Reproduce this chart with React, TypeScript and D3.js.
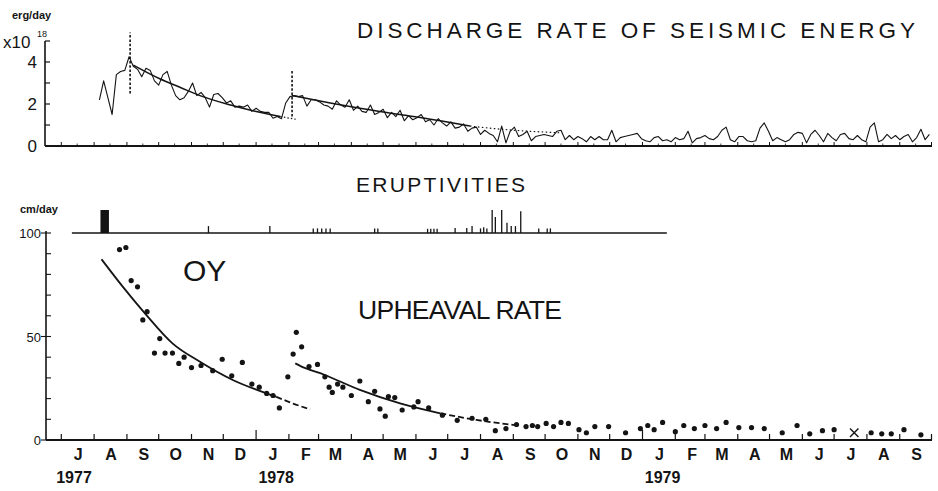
import * as d3 from "d3";

const W = 938, H = 491;
const parse = d3.timeParse("%Y-%m-%d");
const D = (s: string) => parse(s) as Date;

// shared time axis, Jul 1977 .. Oct 1979
const T0 = D("1977-07-01"), T1 = D("1979-10-01");

// discharge rate of seismic energy, x10^18 erg/day, one reading every 4 days
const energyStart = "1977-08-06";
const energyStepDays = 4;
const energy = [
  2.2, 3.1, 2.3, 1.5, 3.4, 3.55, 3.6, 4.25, 3.8, 3.65,
  3.3, 3.7, 3.6, 3.1, 2.9, 3.4, 3.55, 2.9, 2.4, 2.2,
  2.3, 2.6, 3.0, 2.4, 2.55, 2.3, 1.85, 2.45, 2.5, 2.3,
  2.05, 2.15, 1.85, 1.9, 1.85, 1.95, 1.65, 1.8, 1.65, 1.6,
  1.6, 1.32, 1.4, 1.3, 2.05, 2.35, 2.4, 2.35, 2.4, 1.9,
  2.2, 2.2, 2.1, 1.95, 1.9,
  1.75, 2.15, 1.95, 1.85, 2.2, 1.7, 1.9, 1.65, 1.6, 1.95,
  1.5, 1.6, 1.75, 1.35, 1.6, 1.4, 1.7, 1.2, 1.45, 1.25,
  1.35, 1.5, 1.15, 1.25, 1.0, 1.3, 1.1, 0.95, 1.15, 0.85,
  0.9, 1.05, 0.7, 0.85, 0.9, 0.55, 0.75, 0.6, 0.5,
  0.2, 0.95, 0.15, 0.7, 0.9, 0.45, 0.55, 0.7, 0.25, 0.45,
  0.5, 0.55, 0.5, 0.45, 0.7, 0.75, 0.3, 0.5, 0.3, 0.45,
  0.35, 0.2, 0.45, 0.3, 0.45, 0.3, 0.3, 0.75, 0.2, 0.4,
  0.45, 0.5, 0.55, 0.6, 0.35, 0.25, 0.2, 0.4, 0.45, 0.25,
  0.3, 0.2, 0.4, 0.3, 0.35, 0.7, 0.15, 0.35, 0.4, 0.5,
  0.35, 0.3, 0.45, 0.75, 0.9, 0.3, 0.2, 0.45, 0.45, 0.25,
  0.2, 0.25, 0.85, 1.1, 0.7, 0.25, 0.4, 0.3, 0.2, 0.3,
  0.55, 0.65, 0.6, 0.15, 0.55, 0.75, 0.5, 0.2, 0.6, 0.4,
  0.25, 0.55, 0.6, 0.35, 0.3, 0.5, 0.3, 0.2, 0.9, 1.1,
  0.2, 0.3, 0.55, 0.35, 0.5, 0.3, 0.45, 0.55, 0.2, 0.4,
  0.8, 0.3, 0.55,
];

// trend lines drawn through the energy record
const energyTrend1: [string, number][] = [
  ["1977-09-07", 3.85], ["1977-10-02", 3.2], ["1977-10-21", 2.8], ["1977-11-09", 2.4],
  ["1977-12-08", 1.95], ["1977-12-31", 1.65], ["1978-01-24", 1.4],
];
const energyTrend1Dotted: [string, number][] = [["1978-01-24", 1.4], ["1978-02-08", 1.27]];
const energyTrend2: [string, number][] = [
  ["1978-02-04", 2.4], ["1978-03-12", 2.05], ["1978-04-09", 1.8], ["1978-05-17", 1.5],
  ["1978-06-24", 1.2], ["1978-07-22", 0.95],
];
const energyTrend2Dotted: [string, number][] = [
  ["1978-07-22", 0.95], ["1978-08-20", 0.8], ["1978-09-17", 0.7], ["1978-10-15", 0.63],
];
// dashed markers at the two energy peaks: date, from, to
const peakMarks: [string, number, number][] = [["1977-09-04", 2.5, 5.4], ["1978-02-04", 1.4, 3.6]];

// eruptivities
const eruptionMain: [string, string, number] = ["1977-08-07", "1977-08-15", 1];
const eruptions: [string, number][] = [
  ["1977-11-17", 0.3], ["1978-01-14", 0.3], ["1978-02-24", 0.2], ["1978-02-28", 0.2],
  ["1978-03-04", 0.2], ["1978-03-08", 0.2], ["1978-03-12", 0.2], ["1978-04-23", 0.2],
  ["1978-04-26", 0.2], ["1978-06-12", 0.18], ["1978-06-15", 0.18], ["1978-06-18", 0.18],
  ["1978-06-21", 0.18], ["1978-07-08", 0.22], ["1978-07-19", 0.22], ["1978-07-24", 0.3],
  ["1978-08-01", 0.2], ["1978-08-04", 0.25], ["1978-08-07", 0.2], ["1978-08-12", 1.0],
  ["1978-08-15", 0.7], ["1978-08-21", 1.0], ["1978-08-26", 0.45], ["1978-08-30", 0.3],
  ["1978-09-03", 0.3], ["1978-09-08", 0.95], ["1978-09-25", 0.2], ["1978-10-03", 0.2],
  ["1978-10-06", 0.2],
];
const eruptSpan = ["1977-07-11", "1979-01-24"];

// upheaval rate at OY, cm/day
const upheaval: [string, number][] = [
  ["1977-08-25", 92], ["1977-08-31", 93], ["1977-09-05", 77], ["1977-09-11", 74],
  ["1977-09-16", 58], ["1977-09-20", 62], ["1977-09-27", 42], ["1977-10-02", 49],
  ["1977-10-07", 42], ["1977-10-14", 42], ["1977-10-20", 37], ["1977-10-25", 40],
  ["1977-11-01", 35], ["1977-11-10", 36], ["1977-11-21", 33.5], ["1977-11-30", 39],
  ["1977-12-09", 31], ["1977-12-19", 37.5], ["1977-12-28", 27], ["1978-01-04", 25.5],
  ["1978-01-11", 22.5], ["1978-01-17", 21.5], ["1978-01-23", 15.5], ["1978-01-31", 30.5],
  ["1978-02-05", 41.5], ["1978-02-08", 52], ["1978-02-13", 45], ["1978-02-20", 35.5],
  ["1978-02-28", 36.5], ["1978-03-07", 30.5], ["1978-03-11", 25.5], ["1978-03-14", 23],
  ["1978-03-19", 27], ["1978-03-24", 25.5], ["1978-04-01", 21.5], ["1978-04-09", 28.5],
  ["1978-04-17", 18.5], ["1978-04-23", 23.5], ["1978-04-28", 15], ["1978-05-03", 11.5],
  ["1978-05-06", 21], ["1978-05-12", 20.5], ["1978-05-19", 14.5], ["1978-05-30", 16],
  ["1978-06-03", 18.5], ["1978-06-13", 15.5], ["1978-06-26", 12], ["1978-07-10", 9.5],
  ["1978-07-24", 10.5], ["1978-08-06", 10], ["1978-08-15", 4.5], ["1978-08-25", 5.5],
  ["1978-09-04", 7.5], ["1978-09-13", 6.5], ["1978-09-19", 7], ["1978-09-24", 6.5],
  ["1978-10-02", 8], ["1978-10-09", 6.5], ["1978-10-16", 8.5], ["1978-10-23", 8],
  ["1978-11-02", 5], ["1978-11-09", 3.5], ["1978-11-17", 6.5], ["1978-11-30", 6.5],
  ["1978-12-16", 3.5], ["1978-12-30", 5.5], ["1979-01-06", 7], ["1979-01-12", 5],
  ["1979-01-20", 8.5], ["1979-02-01", 4], ["1979-02-09", 7], ["1979-02-19", 5.5],
  ["1979-03-01", 7], ["1979-03-12", 5.5], ["1979-03-21", 8.5], ["1979-04-02", 6],
  ["1979-04-14", 6], ["1979-04-26", 5.5], ["1979-05-13", 3.5], ["1979-05-27", 7],
  ["1979-06-08", 3], ["1979-06-20", 4.5], ["1979-07-01", 5], ["1979-08-05", 3.5],
  ["1979-08-15", 3], ["1979-08-24", 3], ["1979-09-05", 5], ["1979-09-21", 2.5],
];
const upheavalCross: [string, number] = ["1979-07-20", 3.5];

// fitted decay curves
const fit1: [string, number][] = [
  ["1977-08-08", 87.3], ["1977-08-28", 74.1], ["1977-09-18", 61.2], ["1977-10-14", 46.7],
  ["1977-11-09", 37.8], ["1977-12-10", 29], ["1978-01-11", 22.5], ["1978-01-20", 20.9],
];
const fit1Dashed: [string, number][] = [["1978-01-20", 20.9], ["1978-02-05", 17.6], ["1978-02-21", 14.8]];
const fit2: [string, number][] = [
  ["1978-02-07", 37], ["1978-02-12", 35.7], ["1978-03-07", 31.4], ["1978-04-09", 24.2],
  ["1978-05-17", 17.7], ["1978-06-24", 12.9],
];
const fit2Dashed: [string, number][] = [["1978-06-24", 12.9], ["1978-07-28", 9.7], ["1978-09-02", 7.2]];

const monthLetters = ["J", "A", "S", "O", "N", "D", "J", "F", "M", "A", "M", "J", "J", "A", "S",
  "O", "N", "D", "J", "F", "M", "A", "M", "J", "J", "A", "S"];
const yearLabels: [string, string][] = [["1977", "1977-07-13"], ["1978", "1978-01-20"], ["1979", "1979-01-20"]];
const energyTicks = [0, 1, 2, 3, 4, 5];
const energyLabels = [0, 2, 4];
const upheavalTicks = d3.range(0, 101, 10);
const upheavalLabels = [0, 50, 100];

const x = d3.scaleTime([T0, T1], [61.3, 931.5]);
const yE = d3.scaleLinear([0, 5], [146, 41]);
const yU = d3.scaleLinear([0, 100], [440, 233]);
const yR = d3.scaleLinear([0, 1], [yU(100), yU(100) - 23]);

const ink = "#141414";
const font = "'Liberation Sans', Arial, sans-serif";

export default function App() {
  const energyPts = energy.map((v, i) => [d3.timeDay.offset(D(energyStart), i * energyStepDays), v] as [Date, number]);
  const lineE = d3.line<[Date, number]>().x((d) => x(d[0])).y((d) => yE(d[1]));
  const trendE = d3.line<[string, number]>().x((d) => x(D(d[0]))).y((d) => yE(d[1])).curve(d3.curveMonotoneX);
  const fitU = d3.line<[string, number]>().x((d) => x(D(d[0]))).y((d) => yU(d[1])).curve(d3.curveMonotoneX);
  const months = d3.timeMonth.range(T0, d3.timeDay.offset(T1, 1));
  const halfMonths = d3.timeMonth.range(T0, T1).map((m) => d3.timeDay.offset(m, 15));
  const monthMids = d3.timeMonth.range(T0, T1).map((m) => d3.timeDay.offset(m, 16));
  const cross = d3.symbol(d3.symbolX, 48)();

  return (
    <svg width={W} height={H} style={{ position: "absolute", left: 0, top: 0, background: "#fff" }}
      fontFamily={font} fill={ink}>
      {/* ---------- discharge rate of seismic energy ---------- */}
      <text x={12} y={19} fontSize={11} fontWeight={700}>erg/day</text>
      <text x={3} y={48} fontSize={17}>x10</text>
      <text x={37} y={37} fontSize={9}>18</text>
      <text x={357} y={38} fontSize={22.5} textLength={558} lengthAdjust="spacing">DISCHARGE RATE OF SEISMIC ENERGY</text>

      <line x1={45} y1={yE(5)} x2={45} y2={yE(0)} stroke={ink} strokeWidth={1.6} />
      {energyTicks.map((t) => (
        <line key={t} x1={45} x2={50} y1={yE(t)} y2={yE(t)} stroke={ink} strokeWidth={1.2} />
      ))}
      {energyLabels.map((t) => (
        <text key={t} x={37} y={yE(t) + 6} fontSize={17} textAnchor="end">{t}</text>
      ))}
      <line x1={45} y1={yE(0)} x2={932} y2={yE(0)} stroke={ink} strokeWidth={1.8} />
      {months.map((m, i) => (
        <line key={i} x1={x(m)} x2={x(m)} y1={yE(0)} y2={yE(0) - 4} stroke={ink} strokeWidth={1} />
      ))}
      {halfMonths.map((m, i) => (
        <line key={i} x1={x(m)} x2={x(m)} y1={yE(0)} y2={yE(0) - 2.5} stroke={ink} strokeWidth={0.8} />
      ))}

      <path d={lineE(energyPts) ?? ""} fill="none" stroke={ink} strokeWidth={1.1} strokeLinejoin="round" />
      <path d={trendE(energyTrend1) ?? ""} fill="none" stroke={ink} strokeWidth={1.5} />
      <path d={trendE(energyTrend1Dotted) ?? ""} fill="none" stroke={ink} strokeWidth={1.2} strokeDasharray="1.5,2" />
      <path d={trendE(energyTrend2) ?? ""} fill="none" stroke={ink} strokeWidth={1.5} />
      <path d={trendE(energyTrend2Dotted) ?? ""} fill="none" stroke={ink} strokeWidth={1.2} strokeDasharray="1.5,2.5" />
      {peakMarks.map(([d, a, b]) => (
        <line key={d} x1={x(D(d))} x2={x(D(d))} y1={yE(a)} y2={yE(b)} stroke={ink} strokeWidth={1.6} strokeDasharray="2.5,1.8" />
      ))}

      {/* ---------- eruptivities ---------- */}
      <text x={356} y={192} fontSize={21} textLength={169} lengthAdjust="spacing">ERUPTIVITIES</text>
      <line x1={x(D(eruptSpan[0]))} x2={x(D(eruptSpan[1]))} y1={yR(0)} y2={yR(0)} stroke={ink} strokeWidth={1.5} />
      <rect x={x(D(eruptionMain[0]))} y={yR(eruptionMain[2])}
        width={x(D(eruptionMain[1])) - x(D(eruptionMain[0]))} height={yR(0) - yR(eruptionMain[2])} fill={ink} />
      {eruptions.map(([d, v]) => (
        <line key={d} x1={x(D(d))} x2={x(D(d))} y1={yR(0)} y2={yR(v)} stroke={ink} strokeWidth={1.3} />
      ))}

      {/* ---------- upheaval rate ---------- */}
      <text x={20} y={213} fontSize={11} fontWeight={700}>cm/day</text>
      <text x={183} y={281} fontSize={30}>OY</text>
      <text x={358} y={319} fontSize={26.5} textLength={204} lengthAdjust="spacing">UPHEAVAL RATE</text>

      <line x1={46} y1={yU(100) - 2} x2={46} y2={yU(0)} stroke={ink} strokeWidth={1.6} />
      {upheavalTicks.map((t) => (
        <line key={t} x1={46} x2={51} y1={yU(t)} y2={yU(t)} stroke={ink} strokeWidth={1.1} />
      ))}
      {upheavalLabels.map((t) => (
        <g key={t}>
          <line x1={41} x2={46} y1={yU(t)} y2={yU(t)} stroke={ink} strokeWidth={1.1} />
          <text x={41} y={yU(t) + 5} fontSize={13} textAnchor="end">{t}</text>
        </g>
      ))}
      <line x1={46} y1={yU(0)} x2={932} y2={yU(0)} stroke={ink} strokeWidth={2} />
      {months.map((m, i) => (
        <line key={i} x1={x(m)} x2={x(m)} y1={yU(0)} y2={yU(0) - (m.getMonth() === 0 ? 10 : 6)}
          stroke={ink} strokeWidth={1.2} />
      ))}

      <path d={fitU(fit1) ?? ""} fill="none" stroke={ink} strokeWidth={1.8} />
      <path d={fitU(fit1Dashed) ?? ""} fill="none" stroke={ink} strokeWidth={1.8} strokeDasharray="6,3" />
      <path d={fitU(fit2) ?? ""} fill="none" stroke={ink} strokeWidth={1.8} />
      <path d={fitU(fit2Dashed) ?? ""} fill="none" stroke={ink} strokeWidth={1.8} strokeDasharray="6,3" />
      {upheaval.map(([d, v]) => (
        <circle key={d} cx={x(D(d))} cy={yU(v)} r={2.6} fill={ink} />
      ))}
      <path d={cross ?? ""} transform={`translate(${x(D(upheavalCross[0]))},${yU(upheavalCross[1])})`}
        fill="none" stroke={ink} strokeWidth={1.4} />

      {/* month / year labels */}
      {monthMids.map((m, i) => (
        <text key={i} x={x(m)} y={460} fontSize={16} fontWeight={700} textAnchor="middle">{monthLetters[i]}</text>
      ))}
      {yearLabels.map(([label, d]) => (
        <text key={label} x={x(D(d))} y={483} fontSize={16} fontWeight={700} textAnchor="middle">{label}</text>
      ))}
    </svg>
  );
}
